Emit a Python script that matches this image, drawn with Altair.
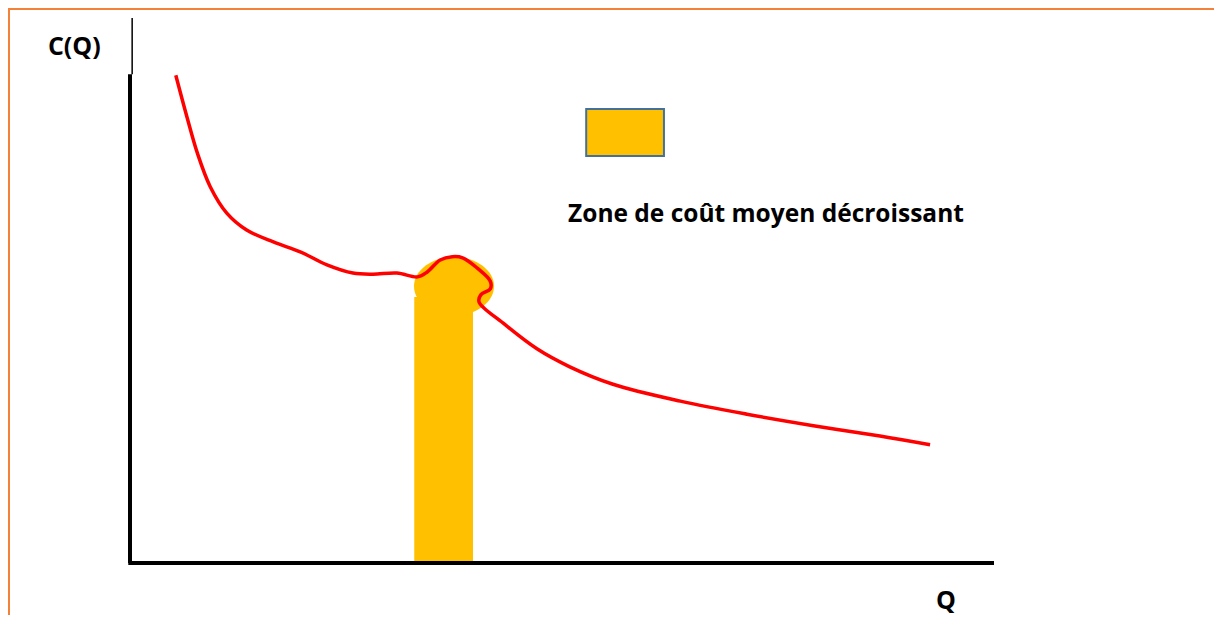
import altair as alt
import pandas as pd

# ---- data ----
curve_q = [5.3, 6.6, 7.8, 9.3, 11.2, 13.5, 16.6, 19.7, 22.8, 25.8, 28.1, 30.9, 33.3,
           34.4, 35.9, 37.3, 38.5, 40.2, 41.7, 41.7, 40.6, 40.4, 43.2, 47.1, 50.9,
           55.9, 63.7, 71.4, 79.1, 86.8, 92.6]
curve_c = [89.5, 81.8, 75.2, 69.0, 64.2, 61.1, 58.9, 57.1, 54.7, 53.2, 53.0, 53.2, 52.5,
           53.4, 55.6, 56.2, 56.0, 54.1, 51.7, 50.3, 49.2, 47.9, 44.0, 39.3, 36.0,
           32.8, 29.7, 27.3, 25.2, 23.3, 21.7]

zone_q = [32.9, 39.7]      # bar of the zone
zone_top = [48.8]
blob_q = [37.5]
blob_c = [50.8]

legend_q = [52.8, 61.8]
legend_c = [74.7, 83.3]
legend_label = ["Zone de coût moyen décroissant"]
legend_label_pos = [50.7, 62.6]

y_axis_top = [89.7, 100.0]
x_axis_end = [100.0]

y_title = ["C(Q)"]
y_title_pos = [-9.5, 93.2]
x_title = ["Q"]
x_title_pos = [93.3, -8.5]

ORANGE = "#FFC000"
RED = "#FF0000"
FONT = "Open Sans"

xs = alt.Scale(domain=[0, 100], nice=False, zero=False)
ys = alt.Scale(domain=[0, 100], nice=False, zero=False)

curve_df = pd.DataFrame({"q": curve_q, "c": curve_c, "i": list(range(len(curve_q)))})
zone_df = pd.DataFrame({"q0": [zone_q[0]], "q1": [zone_q[1]], "c0": [0.0], "c1": zone_top})
blob_df = pd.DataFrame({"q": blob_q, "c": blob_c})
legend_df = pd.DataFrame({"q0": [legend_q[0]], "q1": [legend_q[1]],
                          "c0": [legend_c[0]], "c1": [legend_c[1]]})
label_df = pd.DataFrame({"t": legend_label, "q": [legend_label_pos[0]], "c": [legend_label_pos[1]]})
yaxis_df = pd.DataFrame({"q": [0.0], "c0": [0.0], "c1": [y_axis_top[0]]})
yaxis_thin_df = pd.DataFrame({"q": [0.25], "c0": [y_axis_top[0]], "c1": [y_axis_top[1]]})
xaxis_df = pd.DataFrame({"c": [0.0], "q0": [-0.2], "q1": x_axis_end})
ytitle_df = pd.DataFrame({"t": y_title, "q": [y_title_pos[0]], "c": [y_title_pos[1]]})
xtitle_df = pd.DataFrame({"t": x_title, "q": [x_title_pos[0]], "c": [x_title_pos[1]]})

frame = alt.Chart(pd.DataFrame({"a": [0]})).mark_rect(
    filled=False, stroke="#F4813A", strokeWidth=2
).encode(x=alt.value(-121), x2=alt.value(1200), y=alt.value(-9), y2=alt.value(700))

zone = alt.Chart(zone_df).mark_rect(color=ORANGE).encode(
    x=alt.X("q0:Q", scale=xs, axis=None), x2="q1:Q",
    y=alt.Y("c0:Q", scale=ys, axis=None), y2="c1:Q")

ellipse_path = ("M-1,0 C-1,-0.403 -0.552,-0.73 0,-0.73 C0.552,-0.73 1,-0.403 1,0 "
                "C1,0.403 0.552,0.73 0,0.73 C-0.552,0.73 -1,0.403 -1,0 Z")
blob = alt.Chart(blob_df).mark_point(
    shape=ellipse_path, filled=True, color=ORANGE, opacity=1, size=6400, strokeWidth=0
).encode(x=alt.X("q:Q", scale=xs, axis=None), y=alt.Y("c:Q", scale=ys, axis=None))

curve = alt.Chart(curve_df).mark_line(
    color=RED, strokeWidth=3.5, interpolate="catmull-rom"
).encode(x=alt.X("q:Q", scale=xs, axis=None), y=alt.Y("c:Q", scale=ys, axis=None),
         order="i:Q")

yaxis = alt.Chart(yaxis_df).mark_rule(color="black", strokeWidth=4).encode(
    x=alt.X("q:Q", scale=xs, axis=None), y=alt.Y("c0:Q", scale=ys, axis=None), y2="c1:Q")
yaxis_thin = alt.Chart(yaxis_thin_df).mark_rule(color="black", strokeWidth=1.5).encode(
    x=alt.X("q:Q", scale=xs, axis=None), y=alt.Y("c0:Q", scale=ys, axis=None), y2="c1:Q")
xaxis = alt.Chart(xaxis_df).mark_rule(color="black", strokeWidth=4).encode(
    y=alt.Y("c:Q", scale=ys, axis=None), x=alt.X("q0:Q", scale=xs, axis=None), x2="q1:Q")

legend_box = alt.Chart(legend_df).mark_rect(
    color=ORANGE, stroke="#41719C", strokeWidth=2
).encode(x=alt.X("q0:Q", scale=xs, axis=None), x2="q1:Q",
         y=alt.Y("c0:Q", scale=ys, axis=None), y2="c1:Q")

label = alt.Chart(label_df).mark_text(
    font=FONT, fontWeight="bold", fontSize=24.5, align="left", baseline="alphabetic", color="black"
).encode(x=alt.X("q:Q", scale=xs, axis=None), y=alt.Y("c:Q", scale=ys, axis=None), text="t:N")

ytitle = alt.Chart(ytitle_df).mark_text(
    font=FONT, fontWeight="bold", fontSize=25, align="left", baseline="alphabetic", color="black"
).encode(x=alt.X("q:Q", scale=xs, axis=None), y=alt.Y("c:Q", scale=ys, axis=None), text="t:N")

xtitle = alt.Chart(xtitle_df).mark_text(
    font=FONT, fontWeight="bold", fontSize=25, align="left", baseline="alphabetic", color="black"
).encode(x=alt.X("q:Q", scale=xs, axis=None), y=alt.Y("c:Q", scale=ys, axis=None), text="t:N")

chart = alt.layer(
    frame, zone, blob, curve, yaxis, yaxis_thin, xaxis, legend_box, label, ytitle, xtitle
).properties(
    width=864, height=545,
    autosize=alt.AutoSizeParams(type="none"),
    padding={"left": 122, "top": 10, "right": 220, "bottom": 52},
    background="white",
).configure_view(stroke=None)

chart.save("out.html", embed_options={"renderer": "svg", "actions": False})
